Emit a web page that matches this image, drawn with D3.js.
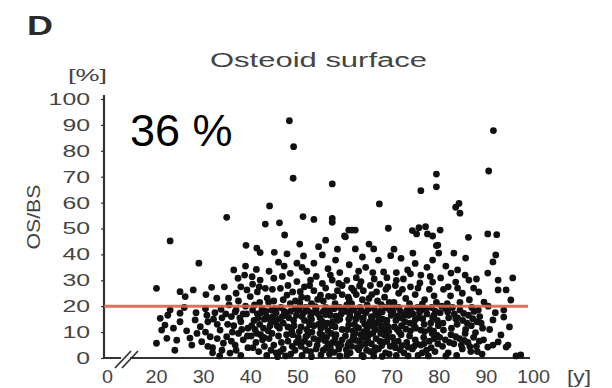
<!DOCTYPE html>
<html><head><meta charset="utf-8">
<script src="https://cdn.jsdelivr.net/npm/d3@7"></script>
<style>html,body{margin:0;padding:0;background:#fff;}svg{display:block;font-family:"Liberation Sans",Arial,sans-serif;}</style>
</head><body>
<svg id="chart" width="612" height="388"></svg>
<script>
// ---- data: [age in years, OS/BS in %], grouped by decade ----
const pts20s = [[20.1,26.9],[23.0,45.2],[29.1,36.6],[25.1,25.6],[26.2,23.7],[27.9,26.3],[23.0,18.5],[25.1,17.3],[20.9,15.3],[21.9,12.7],[23.7,11.5],[21.2,10.8],[25.1,14.0],[28.3,14.7],[29.4,12.1],[28.7,9.5],[20.1,5.7],[22.3,7.6],[24.4,6.9],[27.6,5.0],[29.7,6.3],[27.2,7.7],[26.0,19.5],[22.5,16.5],[28.5,17.5],[24.0,3.0],[26.5,10.5]];
const pts30s = [[31.8,27.3],[32.9,23.1],[35.4,23.1],[35.0,54.3],[31.5,8.2],[33.6,10.8],[35.0,8.2],[34.3,5.7],[32.0,4.0],[32.0,2.0],[35.7,1.9],[37.4,30.8],[39.1,43.5],[39.3,26.3],[37.0,18.5],[38.5,17.0],[36.0,16.0],[34.0,15.5],[32.5,17.5],[31.0,14.0],[30.5,19.0],[33.0,13.0],[36.5,12.5],[38.0,14.0],[39.5,11.5],[37.5,9.5],[36.0,6.5],[38.5,7.0],[39.5,4.0],[37.0,3.0],[33.5,0.8],[38.0,1.0],[35.5,20.5],[37.5,22.0],[39.0,20.0],[34.5,27.5],[38.0,27.5],[36.5,34.0],[39.0,35.5],[31.0,4.5],[30.5,10.0],[38.8,32.0],
  [30.8,16.5],[32.2,15.0],[33.8,18.8],[34.8,17.0],[36.8,17.8],[37.8,15.5],[39.2,17.0],[35.2,13.0],[36.2,10.0],[38.2,11.0],[34.0,3.0],[36.8,5.0],[33.0,7.5],[39.4,8.5],[30.6,24.5],[37.0,25.0]];
const pts40s = [[48.3,91.6],[49.2,81.6],[49.1,69.4],[44.1,58.7],[43.2,51.7],[46.2,52.2],[47.3,47.5],[41.4,42.4],[42.1,40.7],[45.1,40.8],[47.8,40.2],[49.9,36.6],[41.3,34.2],[47.2,35.5],[48.5,32.7],[40.4,31.4],[42.1,30.1],[45.0,30.8],[49.9,29.5],[43.2,26.9],[46.4,26.9],[40.0,23.7],[43.6,23.1],[47.8,24.3],[40.5,28.5],[44.0,33.5],[46.0,37.0],[48.0,28.0],[49.0,25.5],[41.5,25.5],[45.0,22.0],[42.0,21.5],[48.5,21.0],
  [40.5,18.5],[41.5,17.0],[42.5,19.0],[43.5,16.0],[44.5,18.5],[45.5,17.5],[46.5,19.5],[47.5,16.5],[48.5,18.0],[49.5,19.0],[40.8,14.5],[42.0,13.0],[43.0,15.0],[44.2,12.5],[45.3,14.0],[46.2,11.5],[47.0,13.5],[48.0,12.0],[49.2,14.5],[41.0,11.0],[43.8,10.5],[46.8,16.0],[48.8,10.5],[44.8,16.0],[42.8,11.5],[49.8,16.5],
  [40.2,8.5],[41.2,6.0],[42.2,9.0],[43.0,4.5],[44.0,7.5],[45.0,5.0],[46.0,8.5],[47.0,3.5],[48.0,6.5],[49.0,9.0],[41.8,2.5],[43.5,1.0],[45.5,2.0],[47.5,0.8],[49.5,3.0],[40.6,4.0],[44.6,9.5],[46.6,6.0],[48.6,1.5],[42.6,7.0],[45.8,0.5],[49.8,6.0],
  [40.9,20.5],[41.7,15.5],[42.3,17.5],[43.3,18.0],[44.3,14.5],[45.2,19.0],[46.0,15.0],[47.2,18.0],[48.2,15.5],[49.3,12.5],[41.4,9.5],[42.9,8.0],[44.4,3.0],[46.4,2.5],[47.7,9.0],[48.9,4.5],[40.3,12.5],[45.7,12.5],[43.9,21.5],[47.0,22.5],[44.7,26.5],[41.9,27.5],[49.6,22.0],[46.8,31.5]];
const pts50s = [[51.2,54.6],[53.5,53.5],[57.4,53.9],[57.4,52.4],[57.4,67.2],[51.3,39.4],[53.5,36.6],[55.3,39.8],[58.1,37.8],[52.8,30.1],[55.3,28.8],[57.4,30.1],[50.6,25.6],[52.1,23.1],[54.9,24.3],[57.7,23.7],[50.5,44.0],[54.5,43.0],[56.0,45.5],[58.5,42.0],[52.0,33.5],[56.5,34.5],[59.0,33.0],[54.0,31.5],[51.0,35.0],[59.5,28.0],[51.5,27.5],[53.5,26.0],[56.0,27.0],[58.5,26.0],[50.5,21.5],[53.0,21.0],[55.5,22.0],[58.0,21.0],[59.5,24.5],
  [50.3,18.5],[51.0,16.0],[51.8,19.5],[52.5,14.0],[53.2,17.5],[54.0,19.0],[54.8,15.5],[55.5,18.0],[56.3,13.5],[57.0,16.5],[57.8,19.0],[58.5,14.5],[59.3,17.0],[50.8,12.0],[52.0,11.0],[53.5,12.5],[55.0,11.5],[56.5,10.5],[58.0,12.0],[59.5,11.0],[51.5,14.5],[54.5,13.0],[57.5,14.0],[52.8,16.0],[56.0,19.5],[59.0,19.5],
  [50.2,8.0],[50.8,4.5],[51.5,6.5],[52.2,9.0],[52.8,2.5],[53.5,7.5],[54.2,5.0],[54.8,9.5],[55.5,3.0],[56.2,8.0],[56.8,1.5],[57.5,6.0],[58.2,9.0],[58.8,3.5],[59.5,7.0],[51.0,1.0],[53.0,0.5],[55.0,1.2],[57.0,4.0],[59.0,0.8],[50.5,6.0],[52.5,5.5],[54.5,7.0],[56.5,5.5],[58.5,5.5],[51.8,3.0],[55.8,6.8],[57.8,2.2],
  [50.6,20.0],[51.3,17.5],[52.2,18.2],[53.0,15.0],[53.8,19.8],[54.4,17.0],[55.2,14.2],[56.0,16.8],[56.8,18.5],[57.3,12.5],[58.2,16.2],[59.0,15.0],[59.7,18.8],[50.4,10.2],[51.8,8.2],[53.1,10.0],[54.0,3.5],[55.3,8.8],[56.1,3.8],[57.2,9.5],[58.0,7.8],[59.2,5.0],[52.6,12.8],[55.8,12.2],[50.9,23.5],[52.6,28.0],[54.3,22.6],[56.6,23.8],[58.8,28.8],[57.0,32.0]];
const pts60s = [[60.2,46.8],[60.9,49.4],[61.6,49.4],[62.3,49.4],[60.0,47.1],[67.4,59.5],[69.3,50.1],[62.3,42.1],[65.2,44.0],[66.2,42.1],[63.8,39.0],[67.2,37.8],[68.3,33.2],[61.0,36.0],[64.5,35.0],[66.0,33.0],[62.5,31.0],[69.0,31.0],[60.5,30.0],[63.5,29.5],[65.5,28.0],[67.5,28.5],[61.5,27.0],[64.0,26.0],[66.8,25.5],[68.8,26.5],[60.8,23.5],[62.5,24.5],[63.8,22.5],[65.2,23.0],[67.0,22.0],[68.5,23.5],[69.5,21.5],[61.5,21.0],[64.8,20.5],[69.8,39.5],
  [60.3,18.0],[60.9,15.0],[61.5,19.0],[62.1,13.0],[62.7,17.0],[63.3,19.5],[63.9,14.5],[64.5,17.5],[65.1,12.5],[65.7,16.0],[66.3,19.0],[66.9,13.5],[67.5,18.0],[68.1,15.0],[68.7,19.5],[69.3,12.0],[69.9,16.5],[60.6,11.0],[61.8,10.5],[63.0,11.5],[64.2,10.2],[65.4,14.0],[66.6,11.0],[67.8,12.5],[69.0,14.5],[61.2,16.0],[64.0,15.5],[67.2,16.0],[62.4,15.0],[68.4,10.8],
  [60.2,8.5],[60.7,5.0],[61.2,2.0],[61.7,7.0],[62.2,9.5],[62.7,4.0],[63.2,6.5],[63.7,1.0],[64.2,8.0],[64.7,3.0],[65.2,9.0],[65.7,5.5],[66.2,0.8],[66.7,7.5],[67.2,3.5],[67.7,9.5],[68.2,6.0],[68.7,2.0],[69.2,8.0],[69.7,4.5],[60.5,1.2],[61.5,4.5],[62.5,6.8],[63.5,9.0],[64.5,5.5],[65.5,2.5],[66.5,4.0],[67.5,6.5],[68.5,8.8],[69.5,1.5],[63.0,3.2],[66.0,9.5],[68.0,0.6],[64.0,0.5],[61.0,6.0],
  [60.5,20.5],[61.1,17.2],[62.0,18.6],[62.9,16.0],[63.6,18.2],[64.3,13.0],[65.0,18.8],[65.9,14.8],[66.6,17.0],[67.3,14.0],[68.0,17.8],[68.9,13.2],[69.6,18.5],[60.9,12.8],[62.6,11.8],[64.8,11.2],[66.1,12.2],[67.9,10.4],[69.4,10.2],[60.4,3.2],[61.9,8.6],[63.4,4.6],[64.9,7.0],[66.4,2.8],[67.9,4.8],[69.0,6.4],[62.0,26.0],[63.2,27.8],[65.8,24.5],[67.8,20.6],[69.2,27.5],[61.0,22.5],[66.3,30.5],[63.0,33.5]];
const pts70s = [[74.4,49.2],[75.8,50.3],[77.2,50.7],[75.3,47.9],[77.6,47.9],[78.7,47.1],[76.2,64.6],[79.5,71.0],[79.5,66.1],[79.5,43.4],[78.7,37.8],[73.4,34.0],[76.2,32.0],[78.7,29.3],[70.5,42.0],[72.0,38.5],[74.5,40.5],[71.0,33.0],[75.0,36.5],[77.5,35.0],[70.8,28.0],[72.5,30.5],[74.0,27.5],[76.0,29.0],[78.0,26.5],[71.5,25.0],[73.0,23.0],[75.0,24.5],[77.0,22.5],[79.0,24.0],[70.5,21.5],[73.8,21.0],[76.5,20.8],[79.5,21.5],
  [70.3,18.0],[70.9,14.5],[71.5,19.5],[72.1,12.5],[72.7,16.5],[73.3,18.5],[73.9,13.5],[74.5,17.0],[75.1,11.5],[75.7,15.5],[76.3,18.5],[76.9,13.0],[77.5,17.0],[78.1,11.0],[78.7,15.5],[79.3,18.0],[79.9,12.5],[71.2,11.0],[74.0,10.5],[77.0,10.2],[72.0,15.5],[75.5,19.5],[78.5,19.5],[70.6,12.0],
  [70.2,8.0],[70.8,4.0],[71.4,6.5],[72.0,9.0],[72.6,2.0],[73.2,6.0],[73.8,8.5],[74.4,3.5],[75.0,7.0],[75.6,1.0],[76.2,5.0],[76.8,8.0],[77.4,3.0],[78.0,6.5],[78.6,9.5],[79.2,2.5],[79.8,5.5],[71.0,1.0],[73.5,0.8],[76.5,2.0],[79.0,7.5],[72.2,4.8],[74.8,4.5],[77.8,0.8],
  [70.4,20.2],[71.2,16.2],[71.9,18.0],[72.8,14.0],[73.6,16.5],[74.2,19.2],[75.0,14.8],[75.9,17.5],[76.6,15.2],[77.3,19.0],[78.3,13.5],[79.0,16.5],[79.7,14.5],[71.6,10.0],[73.0,11.2],[74.8,12.5],[76.2,10.8],[78.9,10.4],[70.6,6.0],[71.8,3.2],[73.5,4.2],[75.3,5.5],[76.9,5.6],[78.4,4.0],[79.6,8.8],[72.3,26.5],[75.6,27.0],[78.2,31.5],[71.0,30.0],[74.0,32.5]];
const pts80s = [[80.3,49.4],[84.3,59.7],[83.6,58.2],[84.5,55.9],[86.3,46.6],[79.8,43.6],[80.0,40.5],[83.2,40.5],[85.7,38.6],[80.4,30.9],[82.6,32.8],[83.6,29.3],[86.4,30.1],[87.4,27.0],[88.5,25.5],[89.6,21.6],[81.5,35.5],[84.0,34.0],[81.0,26.5],[82.5,24.0],[85.0,25.0],[86.5,22.5],[81.8,21.0],[84.5,21.5],[88.0,30.5],
  [80.3,17.5],[80.9,13.5],[81.5,19.0],[82.1,15.5],[82.7,11.5],[83.3,17.0],[83.9,13.0],[84.5,18.5],[85.1,14.5],[85.7,11.0],[86.3,16.5],[86.9,12.5],[87.5,18.0],[88.1,14.0],[88.7,16.0],[89.3,11.5],[81.0,10.8],[84.0,15.5],[87.0,19.5],
  [80.2,8.0],[80.8,4.5],[81.4,7.0],[82.0,2.0],[82.6,9.0],[83.2,5.5],[83.8,1.0],[84.4,7.5],[85.0,3.5],[85.6,9.5],[86.2,6.0],[86.8,2.5],[87.4,8.0],[88.0,4.5],[88.6,6.5],[89.2,1.5],[81.5,0.8],[84.8,5.0],[87.8,9.8],
  [80.6,20.0],[81.9,17.8],[82.9,19.5],[83.6,15.2],[85.3,17.2],[86.0,13.5],[87.2,15.2],[88.4,18.5],[89.0,13.5],[82.3,6.0],[83.6,8.2],[85.4,6.8],[86.6,4.4],[88.2,2.5],[89.5,7.0],[82.0,27.5],[84.0,27.0],[85.6,32.0]];
const pts90s = [[91.6,87.8],[90.6,72.2],[90.4,47.9],[92.3,47.6],[92.1,39.8],[91.5,37.1],[90.4,32.8],[92.6,30.1],[95.7,30.9],[92.6,26.3],[94.3,26.3],[95.3,22.4],[93.8,18.5],[93.8,15.8],[91.5,14.7],[93.2,8.9],[92.6,6.2],[94.3,4.2],[96.4,0.8],[91.5,5.0],[94.7,5.0],[97.4,1.2],[90.8,11.0],[92.0,17.5],[90.5,20.0],[95.0,12.0],[90.4,4.2]];

const xTicks = [0,20,30,40,50,60,70,80,90,100];
const yTicks = [0,10,20,30,40,50,60,70,80,90,100];
const referenceLevel = 20;   // red horizontal line, % OS/BS
const titleText = "Osteoid surface";
const panelLabel = "D";
const annotation = "36 %";

// ---- drawing ----
const svg = d3.select("#chart");
const x = d3.scaleLinear().domain([0,20,100]).range([107,156,533]);
const y = d3.scaleLinear().domain([0,100]).range([358,99]);
const axisColor = "#333";
const labelColor = "#444";

// y axis
const gy = svg.append("g").attr("transform","translate(104,0)")
  .call(d3.axisLeft(y).tickValues(yTicks).tickSize(3).tickPadding(11));
gy.select(".domain").attr("d","M0,95V358").attr("stroke",axisColor).attr("stroke-width",2.2);
gy.selectAll(".tick line").attr("stroke",axisColor).attr("stroke-width",1.2);
gy.selectAll(".tick text").attr("font-size",17).attr("fill",labelColor)
  .attr("font-family","Liberation Sans, Arial, sans-serif")
  .attr("textLength",d=>String(d).length*13.8).attr("lengthAdjust","spacingAndGlyphs");

// x axis
const gx = svg.append("g").attr("transform","translate(0,358)")
  .call(d3.axisBottom(x).tickValues(xTicks).tickSize(0).tickPadding(12));
gx.select(".domain").attr("d","M103,0H530").attr("stroke",axisColor).attr("stroke-width",2.2);
gx.selectAll(".tick text").attr("font-size",18).attr("fill",labelColor)
  .attr("font-family","Liberation Sans, Arial, sans-serif")
  .attr("textLength",d=>String(d).length*11).attr("lengthAdjust","spacingAndGlyphs");

// axis break marks
svg.append("rect").attr("x",121).attr("y",354).attr("width",9).attr("height",8).attr("fill","#fff");
[0,7].forEach(o=>{
  svg.append("line").attr("x1",115+o).attr("y1",368).attr("x2",131+o).attr("y2",351)
    .attr("stroke",axisColor).attr("stroke-width",1.8);
});

// points
const allPts = [].concat(pts20s,pts30s,pts40s,pts50s,pts60s,pts70s,pts80s,pts90s);
svg.append("g").selectAll("circle").data(allPts).join("circle")
  .attr("cx",d=>x(d[0])).attr("cy",d=>y(d[1])).attr("r",3.4).attr("fill","#111");

// reference line (drawn over the points, as in the original)
svg.append("line").attr("x1",104).attr("x2",528).attr("y1",y(referenceLevel)).attr("y2",y(referenceLevel))
  .attr("stroke","#d8624f").attr("stroke-width",3).attr("stroke-opacity",0.9);

// texts
svg.append("text").attr("x",27).attr("y",35).attr("font-size",28).attr("font-weight","bold")
  .attr("fill","#2a2a2a").attr("textLength",26).attr("lengthAdjust","spacingAndGlyphs").text(panelLabel);
svg.append("text").attr("x",210).attr("y",67).attr("font-size",20).attr("fill",labelColor)
  .attr("textLength",217).attr("lengthAdjust","spacingAndGlyphs").text(titleText);
svg.append("text").attr("x",68).attr("y",81).attr("font-size",17).attr("fill",labelColor)
  .attr("textLength",39).attr("lengthAdjust","spacingAndGlyphs").text("[%]");
svg.append("text").attr("x",567).attr("y",383).attr("font-size",18).attr("fill",labelColor)
  .attr("textLength",24).attr("lengthAdjust","spacingAndGlyphs").text("[y]");
svg.append("text").attr("transform","translate(40,217) rotate(-90)").attr("text-anchor","middle")
  .attr("font-size",18).attr("fill",labelColor)
  .attr("textLength",65).attr("lengthAdjust","spacingAndGlyphs").text("OS/BS");
svg.append("text").attr("x",130).attr("y",146).attr("font-size",45).attr("fill","#000").text(annotation);
</script>
</body></html>
